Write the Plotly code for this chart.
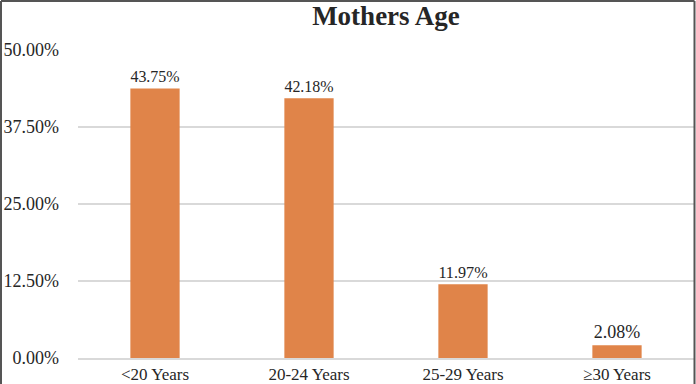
import plotly.graph_objects as go

categories = ["<20 Years", "20-24 Years", "25-29 Years", "≥30 Years"]
values = [43.75, 42.18, 11.97, 2.08]
labels = ["43.75%", "42.18%", "11.97%", "2.08%"]
tick_vals = [0, 12.5, 25, 37.5, 50]
tick_text = ["0.00%", "12.50%", "25.00%", "37.50%", "50.00%"]

W, H = 696, 384
ML, MR, MT, MB = 78, 2, 50, 26
pw, ph = W - ML - MR, H - MT - MB

font = "Liberation Serif, Times New Roman, serif"

fig = go.Figure(go.Bar(
    x=categories, y=values, text=labels, textposition="outside",
    textfont=dict(family=font, size=18, color="#262626"),
    marker=dict(color="#E08449", line=dict(width=0)),
    cliponaxis=False,
))

fig.update_layout(
    width=W, height=H,
    margin=dict(l=ML, r=MR, t=MT, b=MB, autoexpand=False),
    paper_bgcolor="white", plot_bgcolor="white",
    bargap=0.68,
    showlegend=False,
    title=dict(text="<b>Mothers Age</b>", x=(386 - ML) / pw, xref="paper", xanchor="center",
               y=1 - 16 / H, yanchor="middle",
               font=dict(family=font, size=27, color="#262626")),
    xaxis=dict(showgrid=False, showline=True, linecolor="#d9d9d9", linewidth=2,
               automargin=False, ticks="", ticklabelstandoff=0,
               tickfont=dict(family=font, size=17, color="#262626")),
    yaxis=dict(range=[0, 50], tickvals=tick_vals, ticktext=tick_text,
               showgrid=True, gridcolor="#d9d9d9", gridwidth=2, automargin=False,
               zeroline=False, showline=False, ticks="", ticklabelstandoff=18,
               tickfont=dict(family=font, size=18, color="#262626")),
    shapes=[
        dict(type="line", xref="paper", yref="paper",
             x0=(1 - ML) / pw, x1=(1 - ML) / pw, y0=-MB / ph - 0.1, y1=(H - MB - 1) / ph,
             line=dict(color="#555555", width=2)),
        dict(type="line", xref="paper", yref="paper",
             x0=(1 - ML) / pw, x1=(694.5 - ML) / pw, y0=(H - MB - 1) / ph, y1=(H - MB - 1) / ph,
             line=dict(color="#555555", width=2)),
        dict(type="line", xref="paper", yref="paper",
             x0=(694.5 - ML) / pw, x1=(694.5 - ML) / pw, y0=-MB / ph - 0.1, y1=(H - MB - 1) / ph,
             line=dict(color="#555555", width=2)),
    ],
)

fig.write_html("out.html", config={"displayModeBar": False},
               post_script="document.body.style.margin='0';")
